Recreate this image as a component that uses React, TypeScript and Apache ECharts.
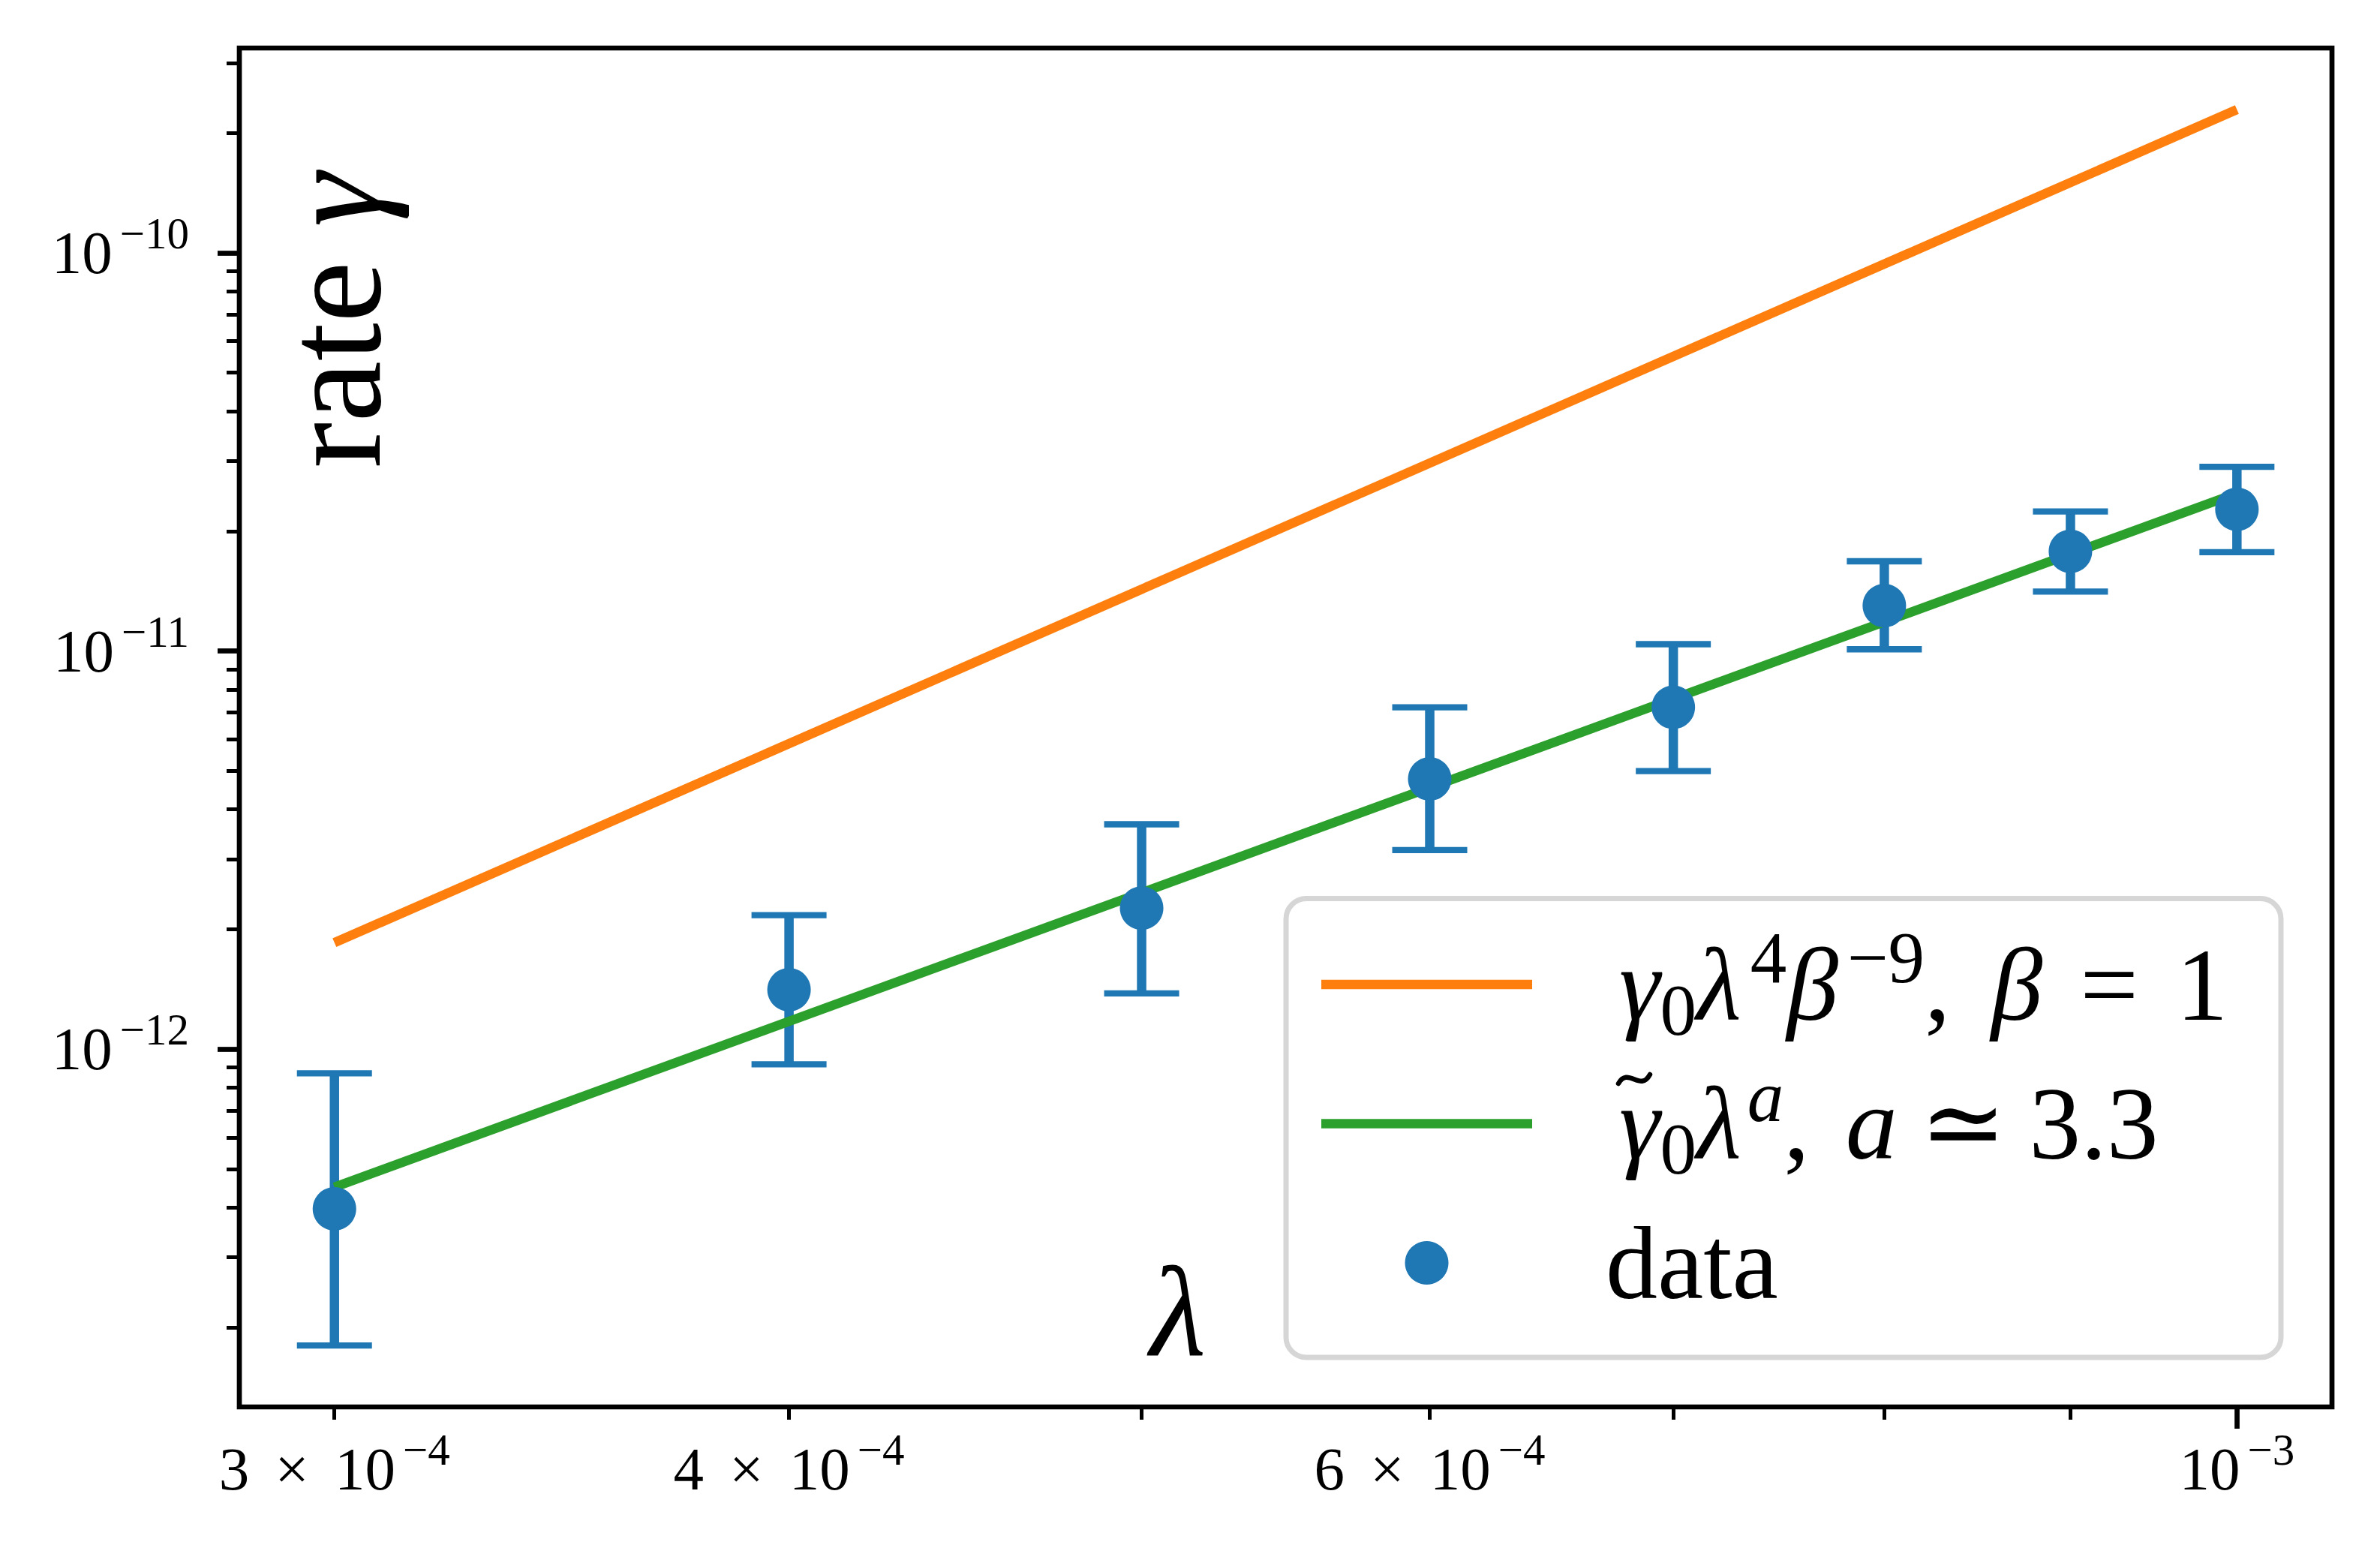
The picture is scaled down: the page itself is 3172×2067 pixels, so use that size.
import React, { useEffect, useRef } from "react";
import * as echarts from "echarts";

// ---------- data ----------
const lambdaValues = [3e-4, 4e-4, 5e-4, 6e-4, 7e-4, 8e-4, 9e-4, 1e-3];
const rateValues = [3.97e-13, 1.41e-12, 2.26e-12, 4.77e-12, 7.22e-12, 1.3e-11, 1.78e-11, 2.27e-11];
const rateUpper = [8.69e-13, 2.17e-12, 3.67e-12, 7.22e-12, 1.04e-11, 1.68e-11, 2.24e-11, 2.9e-11];
const rateLower = [1.8e-13, 9.16e-13, 1.38e-12, 3.16e-12, 4.99e-12, 1.01e-11, 1.41e-11, 1.77e-11];

const theoryLambda = [3e-4, 1e-3];
const theoryRate = [1.85e-12, 2.29e-10];
const fitLambda = [3e-4, 1e-3];
const fitRate = [4.5e-13, 2.49e-11];

// axis limits (log axes with matplotlib 5% margins)
const xLimits = [2.8248e-4, 1.062e-3];
const yLimits = [1.262e-13, 3.27e-10];

// ticks
const xMajorTicks = [1e-3];
const xMinorTicks = [3e-4, 4e-4, 5e-4, 6e-4, 7e-4, 8e-4, 9e-4];
const xLabelValues = [3e-4, 4e-4, 6e-4, 1e-3];
const xLabelMantissas = ["3", "4", "6", ""];
const xLabelExponents = ["−4", "−4", "−4", "−3"];

const yMajorTicks = [1e-12, 1e-11, 1e-10];
const yLabelExponents = ["−12", "−11", "−10"];
const yMinorTicks = [
  2e-13, 3e-13, 4e-13, 5e-13, 6e-13, 7e-13, 8e-13, 9e-13,
  2e-12, 3e-12, 4e-12, 5e-12, 6e-12, 7e-12, 8e-12, 9e-12,
  2e-11, 3e-11, 4e-11, 5e-11, 6e-11, 7e-11, 8e-11, 9e-11,
  2e-10, 3e-10,
];

const seriesNames = ["theory", "fit", "data"];
const legendTexts = [
  "{i0|γ}{sb|0}{i|λ}{sp|4}{i|β}{sp|−9}{n|,}{i1|β}{eq|=}{n|1}",
  "{i0|γ}{sb|0}{i|λ}{spi|a}{n|,}{i2|a}{eq2|≃}{n|3.3}",
  "{n|data}",
];

// ---------- styling ----------
const BLUE = "#1f77b4";
const ORANGE = "#ff7f0e";
const GREEN = "#2ca02c";
const FONT = "'Liberation Serif', 'DejaVu Serif', serif";

const L = Math.log10;
const near = (arr: number[], v: number) => arr.findIndex((a) => Math.abs(L(a) - v) < 1e-6);

export default function App() {
  const ref = useRef<HTMLDivElement>(null);

  useEffect(() => {
    if (!ref.current) return;
    const chart = echarts.init(ref.current, undefined, { renderer: "svg" });

    const tickRich = {
      b: { fontSize: 81, fontFamily: FONT, color: "#000", lineHeight: 110 },
      op: { fontSize: 81, fontFamily: FONT, color: "#000", lineHeight: 110, padding: [0, 34, 0, 34] },
      s: { fontSize: 59, fontFamily: FONT, color: "#000", lineHeight: 110, padding: [0, 0, 52, 10] },
    };

    const LF = 138;
    const LS = 97;
    const LH = 172;
    const legendRich = {
      n: { fontSize: LF, fontFamily: FONT, color: "#000", lineHeight: LH },
      i: { fontSize: LF, fontFamily: FONT, fontStyle: "italic", color: "#000", lineHeight: LH },
      i0: { fontSize: LF, fontFamily: FONT, fontStyle: "italic", color: "#000", lineHeight: LH, padding: [0, 0, 0, 18] },
      i1: { fontSize: LF, fontFamily: FONT, fontStyle: "italic", color: "#000", lineHeight: LH, padding: [0, 0, 0, 54] },
      i2: { fontSize: LF, fontFamily: FONT, fontStyle: "italic", color: "#000", lineHeight: LH, padding: [0, 0, 0, 48] },
      eq: { fontSize: LF, fontFamily: FONT, color: "#000", lineHeight: LH, padding: [0, 50, 0, 50] },
      eq2: { fontSize: LF, fontFamily: FONT, color: "#000", lineHeight: LH, padding: [0, 30, 0, 30] },
      sb: { fontSize: LS, fontFamily: FONT, color: "#000", lineHeight: LH, padding: [68, 0, 0, 0] },
      sp: { fontSize: LS, fontFamily: FONT, color: "#000", lineHeight: LH, padding: [0, 0, 72, 12] },
      spi: { fontSize: LS, fontFamily: FONT, fontStyle: "italic", color: "#000", lineHeight: LH, padding: [0, 0, 72, 8] },
    };

    const lineIcon = "path://M0,0L281,0L281,12.5L0,12.5Z";

    const option: any = {
      animation: false,
      backgroundColor: "#fff",
      grid: {
        left: 319,
        right: 64,
        top: 64,
        bottom: 192,
        show: true,
        borderColor: "#000",
        borderWidth: 6.7,
        backgroundColor: "#fff",
        containLabel: false,
        outerBoundsMode: "none",
      },
      xAxis: [
        {
          type: "value",
          position: "bottom",
          min: L(xLimits[0]),
          max: L(xLimits[1]),
          axisLine: { show: false },
          splitLine: { show: false },
          axisTick: {
            show: true,
            customValues: xMinorTicks.map(L),
            length: 17,
            lineStyle: { color: "#000", width: 5 },
          },
          axisLabel: {
            show: true,
            customValues: xLabelValues.map(L),
            margin: 28,
            fontFamily: FONT,
            fontSize: 81,
            color: "#000",
            rich: tickRich,
            formatter: (v: number) => {
              const k = near(xLabelValues, v);
              if (k < 0) return "";
              const m = xLabelMantissas[k];
              return m
                ? `{b|${m}}{op|×}{b|10}{s|${xLabelExponents[k]}}`
                : `{b|10}{s|${xLabelExponents[k]}}`;
            },
          },
        },
        {
          type: "value",
          position: "bottom",
          min: L(xLimits[0]),
          max: L(xLimits[1]),
          axisLine: { show: false },
          splitLine: { show: false },
          axisLabel: { show: false },
          axisTick: {
            show: true,
            customValues: xMajorTicks.map(L),
            length: 29,
            lineStyle: { color: "#000", width: 6.7 },
          },
        },
      ],
      yAxis: [
        {
          type: "value",
          position: "left",
          min: L(yLimits[0]),
          max: L(yLimits[1]),
          axisLine: { show: false },
          splitLine: { show: false },
          axisTick: {
            show: true,
            customValues: yMinorTicks.map(L),
            length: 17,
            lineStyle: { color: "#000", width: 5 },
          },
          axisLabel: {
            show: true,
            customValues: yMajorTicks.map(L),
            margin: 67,
            fontFamily: FONT,
            fontSize: 81,
            color: "#000",
            rich: tickRich,
            formatter: (v: number) => {
              const k = near(yMajorTicks, v);
              if (k < 0) return "";
              return `{b|10}{s|${yLabelExponents[k]}}`;
            },
          },
        },
        {
          type: "value",
          position: "left",
          min: L(yLimits[0]),
          max: L(yLimits[1]),
          axisLine: { show: false },
          splitLine: { show: false },
          axisLabel: { show: false },
          axisTick: {
            show: true,
            customValues: yMajorTicks.map(L),
            length: 29,
            lineStyle: { color: "#000", width: 6.7 },
          },
        },
      ],
      legend: {
        show: true,
        orient: "vertical",
        left: 1714,
        top: 1197.5,
        padding: [28.5, 0, 40, 47],
        itemWidth: 281,
        itemHeight: 58,
        itemGap: 13.5,
        symbolKeepAspect: true,
        backgroundColor: "#fff",
        borderColor: "#d6d6d6",
        borderWidth: 7,
        borderRadius: 27,
        selectedMode: false,
        itemStyle: { borderWidth: 0 },
        textStyle: {
          fontFamily: FONT,
          fontSize: LF,
          color: "#000",
          width: 900,
          lineHeight: LH,
          padding: [0, 0, 0, 93],
          rich: legendRich,
        },
        data: [
          { name: seriesNames[0], icon: lineIcon },
          { name: seriesNames[1], icon: lineIcon },
          { name: seriesNames[2], icon: "circle" },
        ],
        formatter: (name: string) => legendTexts[seriesNames.indexOf(name)],
      },
      graphic: [
        {
          type: "text",
          x: 444,
          y: 427,
          rotation: Math.PI / 2,
          z: 10,
          style: {
            text: "{n|rate }{i|γ}",
            rich: {
              n: { fontSize: 184, fontFamily: FONT, fill: "#000" },
              i: { fontSize: 184, fontFamily: FONT, fontStyle: "italic", fill: "#000" },
            },
            fontSize: 184,
            fontFamily: FONT,
            fill: "#000",
            align: "center",
            verticalAlign: "middle",
            textAlign: "center",
            textVerticalAlign: "middle",
          },
        },
        {
          type: "text",
          x: 1570,
          y: 1748,
          z: 10,
          style: {
            text: "λ",
            fontSize: 172,
            fontFamily: FONT,
            fontStyle: "italic",
            fill: "#000",
            align: "center",
            verticalAlign: "middle",
            textAlign: "center",
            textVerticalAlign: "middle",
          },
        },
        {
          // tilde accent over the gamma of the second legend entry
          type: "bezierCurve",
          z: 100,
          shape: { x1: 2157, y1: 1444, cpx1: 2170, cpy1: 1421, cpx2: 2186, cpy2: 1456, x2: 2199, y2: 1432 },
          style: { stroke: "#000", lineWidth: 6.5, fill: null, lineCap: "round" },
        },
      ],
      series: [
        {
          name: "error bars",
          type: "custom",
          xAxisIndex: 0,
          yAxisIndex: 0,
          z: 2,
          encode: { x: 0, y: [1, 2] },
          data: lambdaValues.map((x, i) => [L(x), L(rateLower[i]), L(rateUpper[i])]),
          renderItem: (params: any, api: any) => {
            const x = api.value(0);
            const lo = api.coord([x, api.value(1)]);
            const hi = api.coord([x, api.value(2)]);
            const cap = 50;
            return {
              type: "group",
              children: [
                {
                  type: "line",
                  shape: { x1: lo[0], y1: lo[1], x2: hi[0], y2: hi[1] },
                  style: { stroke: BLUE, lineWidth: 12.5 },
                },
                {
                  type: "line",
                  shape: { x1: hi[0] - cap, y1: hi[1], x2: hi[0] + cap, y2: hi[1] },
                  style: { stroke: BLUE, lineWidth: 8.3 },
                },
                {
                  type: "line",
                  shape: { x1: lo[0] - cap, y1: lo[1], x2: lo[0] + cap, y2: lo[1] },
                  style: { stroke: BLUE, lineWidth: 8.3 },
                },
              ],
            };
          },
        },
        {
          name: seriesNames[0],
          type: "line",
          xAxisIndex: 0,
          yAxisIndex: 0,
          z: 3,
          symbol: "none",
          color: ORANGE,
          lineStyle: { color: ORANGE, width: 12.5 },
          data: theoryLambda.map((x, i) => [L(x), L(theoryRate[i])]),
        },
        {
          name: seriesNames[1],
          type: "line",
          xAxisIndex: 0,
          yAxisIndex: 0,
          z: 3,
          symbol: "none",
          color: GREEN,
          lineStyle: { color: GREEN, width: 12.5 },
          data: fitLambda.map((x, i) => [L(x), L(fitRate[i])]),
        },
        {
          name: seriesNames[2],
          type: "scatter",
          xAxisIndex: 0,
          yAxisIndex: 0,
          z: 4,
          symbol: "circle",
          symbolSize: 58,
          color: BLUE,
          itemStyle: { color: BLUE, opacity: 1 },
          data: lambdaValues.map((x, i) => [L(x), L(rateValues[i])]),
        },
      ],
    };

    chart.setOption(option);
    return () => chart.dispose();
  }, []);

  return (
    <div
      ref={ref}
      style={{ position: "fixed", left: 0, top: 0, width: 3172, height: 2067, background: "#fff" }}
    />
  );
}
